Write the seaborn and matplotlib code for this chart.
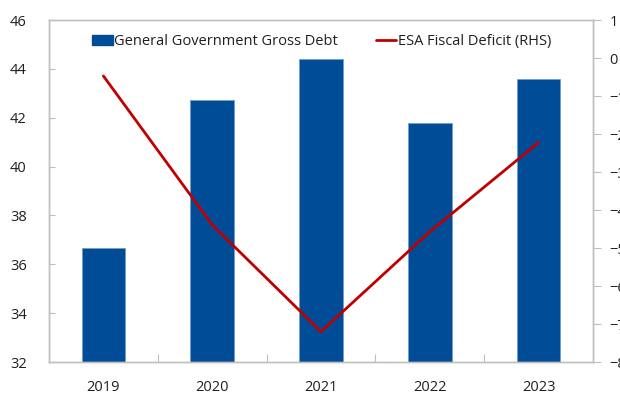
import matplotlib
matplotlib.use("Agg")
import matplotlib.pyplot as plt
import seaborn as sns
import pandas as pd
from matplotlib.patches import Patch
from matplotlib.lines import Line2D

years = ["2019", "2020", "2021", "2022", "2023"]
gross_debt = [36.67, 42.72, 44.40, 41.78, 43.58]
fiscal_deficit = [-0.47, -4.39, -7.20, -4.57, -2.22]

debt_label = "General Government Gross Debt"
deficit_label = "ESA Fiscal Deficit (RHS)"

bar_color = "#004C97"
line_color = "#C00000"
spine_color = "#BFBFBF"
text_color = "#1F1F1F"

sns.set_theme(style="white")
plt.rcParams["font.family"] = ["Open Sans", "DejaVu Sans"]

df = pd.DataFrame({"year": years, "debt": gross_debt, "deficit": fiscal_deficit})

fig, ax = plt.subplots(figsize=(6.2, 3.94), dpi=100)
fig.subplots_adjust(left=0.079, right=0.9565, top=0.949, bottom=0.0812)

sns.barplot(data=df, x="year", y="debt", color=bar_color, width=0.4,
            edgecolor="#6F9FD0", linewidth=0.6, saturation=1, ax=ax)

# deficit line on the secondary axis, drawn above the bars
ax2 = ax.twinx()
sns.lineplot(x=list(range(len(years))), y=fiscal_deficit, color=line_color,
             linewidth=2.0, ax=ax2)

ax.set_xlim(-0.5, len(years) - 0.5)
ax.set_ylim(32, 46)
ax.set_yticks(range(32, 47, 2))
ax2.set_ylim(-8, 1)
ax2.set_yticks(range(-8, 2))

ax.set_xlabel("")
ax.set_ylabel("")
ax2.set_ylabel("")

# category separators as inner ticks on the x axis
ax.set_xticks([i + 0.5 for i in range(len(years) - 1)], minor=True)
ax.tick_params(axis="x", which="major", length=0, pad=13, labelsize=10.5,
               labelcolor=text_color)
ax.tick_params(axis="x", which="minor", direction="in", length=6, width=0.8,
               color=spine_color, bottom=True)
ax.tick_params(axis="y", direction="in", length=4, width=0.8, color=spine_color,
               left=True, pad=16, labelsize=10.5, labelcolor=text_color)
ax2.tick_params(axis="y", direction="out", length=6, width=0.8, color=spine_color,
                right=True, pad=6, labelsize=10.5, labelcolor=text_color)

for a in (ax, ax2):
    for side in ("left", "right", "top", "bottom"):
        a.spines[side].set_visible(True)
        a.spines[side].set_color(spine_color)
        a.spines[side].set_linewidth(1.0)

handles = [Patch(facecolor=bar_color, edgecolor=bar_color),
           Line2D([0], [0], color=line_color, linewidth=2.0)]
leg = ax2.legend(handles, [debt_label, deficit_label], ncol=2, frameon=False,
                 loc="upper center", bbox_to_anchor=(0.501, 0.99),
                 fontsize=10.5, handlelength=1.4, handletextpad=0.1,
                 columnspacing=2.6, borderaxespad=0.3)
for t in leg.get_texts():
    t.set_color(text_color)

fig.savefig("out.png", dpi=100)
